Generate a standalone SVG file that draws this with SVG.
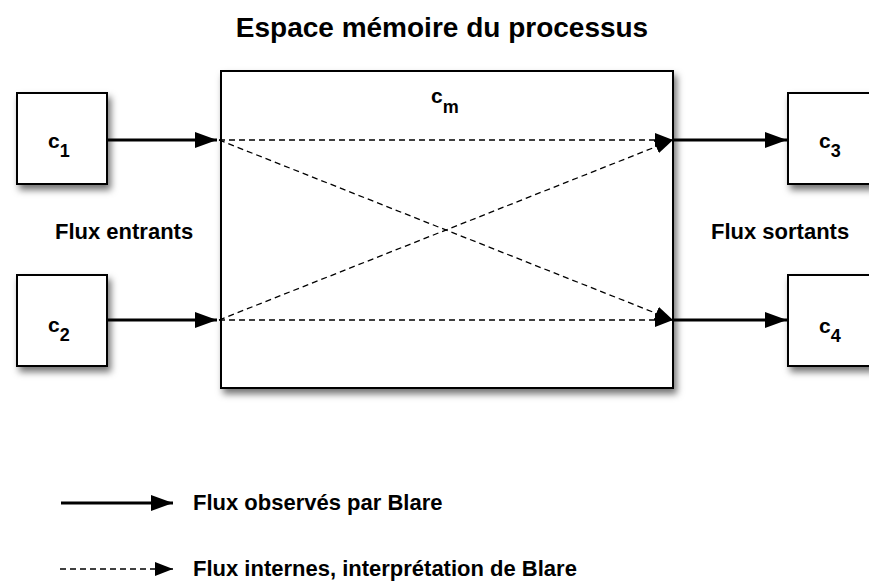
<svg xmlns="http://www.w3.org/2000/svg" width="869" height="585" viewBox="0 0 869 585">
<defs>
<style>
.box{fill:#fff;stroke:#000;stroke-width:2;filter:url(#sh)}
.solid{stroke:#000;stroke-width:3;fill:none}
.dash{stroke:#000;stroke-width:1.3;stroke-dasharray:6,4;fill:none}
text{font-family:"Liberation Sans",Arial,sans-serif;font-weight:bold;fill:#000}
.lbl{font-size:21px}
.cap{font-size:22px}
</style>
<filter id="sh" x="-20%" y="-20%" width="150%" height="150%">
<feDropShadow dx="3" dy="5" stdDeviation="3.5" flood-color="#000" flood-opacity="0.55"/>
</filter>
<marker id="ahb" viewBox="0 0 22 16" refX="22" refY="8" markerWidth="22" markerHeight="16" markerUnits="userSpaceOnUse" orient="auto">
<path d="M0,0 L22,8 L0,16 Z" fill="#000"/>
</marker>
<marker id="ahd" viewBox="0 0 18 14" refX="18" refY="7" markerWidth="18" markerHeight="14" markerUnits="userSpaceOnUse" orient="auto">
<path d="M0,0 L18,7 L0,14 Z" fill="#000"/>
</marker>
</defs>
<rect width="869" height="585" fill="#fff"/>
<text x="442" y="37" text-anchor="middle" font-size="28">Espace mémoire du processus</text>
<g id="cm">
<rect class="box" x="221" y="71" width="452" height="317"/>
<text x="431" y="103" class="lbl">c<tspan dy="10" font-size="18">m</tspan></text>
</g>
<g id="c1">
<rect class="box" x="17" y="93" width="90" height="91"/>
<text x="48" y="148" class="lbl">c<tspan dy="9" font-size="18">1</tspan></text>
</g>
<g id="c2">
<rect class="box" x="17" y="275" width="90" height="91"/>
<text x="48" y="332" class="lbl">c<tspan dy="9" font-size="18">2</tspan></text>
</g>
<g id="c3">
<rect class="box" x="788" y="93" width="100" height="91"/>
<text x="819" y="148" class="lbl">c<tspan dy="9" font-size="18">3</tspan></text>
</g>
<g id="c4">
<rect class="box" x="788" y="275" width="100" height="91"/>
<text x="819" y="333" class="lbl">c<tspan dy="9" font-size="18">4</tspan></text>
</g>
<text x="55" y="239" class="cap">Flux entrants</text>
<text x="711" y="239" class="cap">Flux sortants</text>
<g id="connectors">
<line class="solid" x1="107" y1="140" x2="217" y2="140" marker-end="url(#ahb)"/>
<line class="solid" x1="107" y1="320" x2="217" y2="320" marker-end="url(#ahb)"/>
<line class="solid" x1="673" y1="140" x2="787" y2="140" marker-end="url(#ahb)"/>
<line class="solid" x1="673" y1="320" x2="787" y2="320" marker-end="url(#ahb)"/>
<line class="dash" x1="219" y1="140" x2="673" y2="140" marker-end="url(#ahd)"/>
<line class="dash" x1="219" y1="140" x2="673" y2="320" marker-end="url(#ahd)"/>
<line class="dash" x1="219" y1="320" x2="673" y2="140" marker-end="url(#ahd)"/>
<line class="dash" x1="219" y1="320" x2="673" y2="320" marker-end="url(#ahd)"/>
</g>
<g id="legend">
<line class="solid" x1="61" y1="503" x2="173" y2="503" marker-end="url(#ahb)"/>
<text x="193" y="510" class="cap">Flux observés par Blare</text>
<line class="dash" x1="60" y1="569" x2="173" y2="569" marker-end="url(#ahd)"/>
<text x="193" y="576" class="cap">Flux internes, interprétation de Blare</text>
</g>
</svg>
